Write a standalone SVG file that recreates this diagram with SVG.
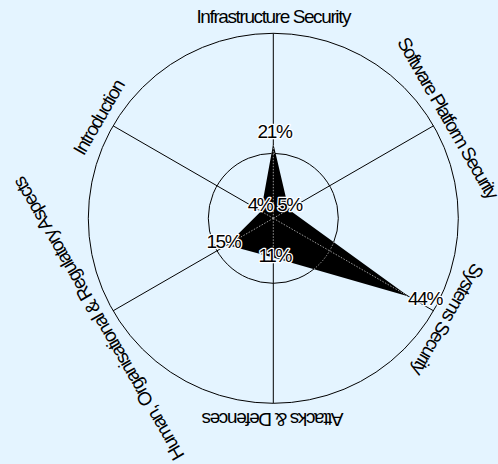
<svg xmlns="http://www.w3.org/2000/svg" width="498" height="464" viewBox="0 0 498 464">
<style>
.grid{fill:none;stroke:#000;stroke-width:1}
.gridin{fill:none;stroke:#9a9a9a;stroke-width:1;stroke-dasharray:1.5 1.5}
.axis{font-family:"Liberation Sans",Arial,sans-serif;font-size:19px;letter-spacing:-1.4px;fill:#000;text-anchor:middle}
.val{font-family:"Liberation Sans",Arial,sans-serif;font-size:19px;letter-spacing:-1.4px;fill:#000;text-anchor:middle;stroke:#fff;stroke-width:2.5px;paint-order:stroke;stroke-linejoin:round}
</style>
<defs>
<clipPath id="polyclip"><polygon points="0,-74.7 15.4,-8.9 135.5,78.25 0,39.1 -46.2,26.7 -12.3,-7.1"/></clipPath>
</defs>
<rect width="498" height="464" fill="#E4F4FF"/>
<g id="chart" transform="translate(273.3,218.3)">
<g id="grid">
<circle class="grid" r="185"/>
<circle class="grid" r="65"/>
<line class="grid" x1="0" y1="0" x2="0" y2="-185"/>
<line class="grid" x1="0" y1="0" x2="160.2" y2="-92.5"/>
<line class="grid" x1="0" y1="0" x2="160.2" y2="92.5"/>
<line class="grid" x1="0" y1="0" x2="0" y2="185"/>
<line class="grid" x1="0" y1="0" x2="-160.2" y2="92.5"/>
<line class="grid" x1="0" y1="0" x2="-160.2" y2="-92.5"/>
</g>
<g id="data">
<polygon points="0,-74.7 15.4,-8.9 135.5,78.25 0,39.1 -46.2,26.7 -12.3,-7.1" fill="#000"/>
<g clip-path="url(#polyclip)">
<circle class="gridin" r="65"/>
<line class="gridin" x1="0" y1="0" x2="0" y2="-185"/>
<line class="gridin" x1="0" y1="0" x2="160.2" y2="-92.5"/>
<line class="gridin" x1="0" y1="0" x2="160.2" y2="92.5"/>
<line class="gridin" x1="0" y1="0" x2="0" y2="185"/>
<line class="gridin" x1="0" y1="0" x2="-160.2" y2="92.5"/>
<line class="gridin" x1="0" y1="0" x2="-160.2" y2="-92.5"/>
</g>
</g>
<g id="axis-labels">
<text class="axis" x="0" y="-195">Infrastructure Security</text>
<text class="axis" x="0" y="-195" transform="rotate(60)" style="letter-spacing:-1.65px">Software Platform Security</text>
<text class="axis" x="0" y="-195" transform="rotate(120)">Systems Security</text>
<text class="axis" x="0" y="-195" transform="rotate(180)">Attacks &amp; Defences</text>
<text class="axis" x="0" y="-195" transform="rotate(240)">Human, Organisational &amp; Regulatory Aspects</text>
<text class="axis" x="0" y="-195" transform="rotate(300)">Introduction</text>
</g>
</g>
<g id="values">
<text class="val" x="274.5" y="138">21%</text>
<text class="val" x="260" y="210.5">4%</text>
<text class="val" x="289.5" y="210.5">5%</text>
<text class="val" x="223.3" y="248.3">15%</text>
<text class="val" x="274.7" y="261.5">11%</text>
<text class="val" x="425" y="305">44%</text>
</g>
</svg>
